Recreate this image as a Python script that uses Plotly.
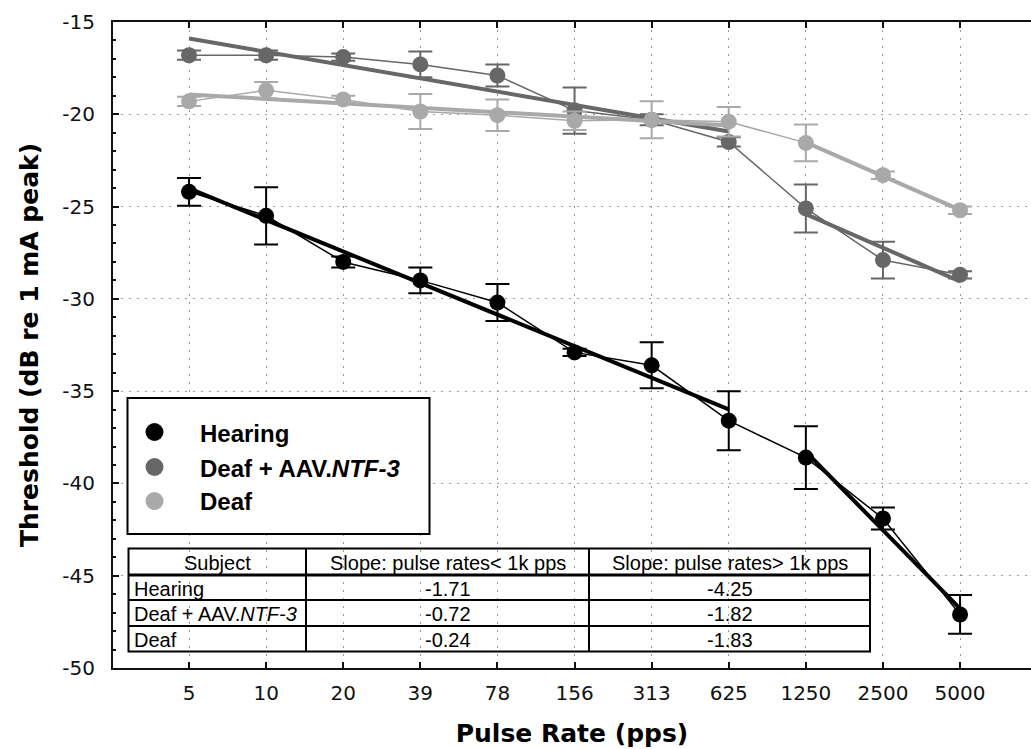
import plotly.graph_objects as go
import numpy as np

# ---------------- data ----------------
rates = ["5", "10", "20", "39", "78", "156", "313", "625", "1250", "2500", "5000"]
hearing = [-24.2, -25.5, -28.0, -29.0, -30.2, -32.9, -33.6, -36.6, -38.6, -41.9, -47.1]
hearing_err = [0.75, 1.55, 0.3, 0.7, 1.0, 0.2, 1.25, 1.6, 1.7, 0.6, 1.05]
aav = [-16.8, -16.8, -16.9, -17.3, -17.9, -19.8, -20.3, -21.5, -25.1, -27.9, -28.7]
aav_err = [0.25, 0.25, 0.2, 0.7, 0.6, 1.25, 0.3, 0.25, 1.3, 1.0, 0.2]
deaf = [-19.3, -18.7, -19.2, -19.85, -20.05, -20.35, -20.3, -20.4, -21.55, -23.3, -25.2]
deaf_err = [0.25, 0.45, 0.2, 0.95, 0.85, 0.5, 1.0, 0.8, 1.0, 0.2, 0.2]

legend_names = ["Hearing", "Deaf + AAV.<i>NTF-3</i>", "Deaf"]
table_header = ["Subject", "Slope: pulse rates< 1k pps", "Slope: pulse rates> 1k pps"]
table_subjects = ["Hearing", "Deaf + AAV.<i>NTF-3</i>", "Deaf"]
slope_low = [-1.71, -0.72, -0.24]
slope_high = [-4.25, -1.82, -1.83]

y_tick_vals = [-15, -20, -25, -30, -35, -40, -45, -50]
y_tick_text = ["-15", "-20", "-25", "-30", "-35", "-40", "-45", "-50"]

colors = ["#000000", "#676767", "#a9a9a9"]

# ---------------- geometry ----------------
W, H = 1031, 749
ML, MR, MT, MB = 113, 0, 22, 81
PW, PH = W - ML - MR, H - MT - MB


def px(x):
    return (x - ML) / PW


def py(y):
    return (H - MB - y) / PH


fig = go.Figure()

series = [
    (aav, aav_err, colors[1], 1),
    (deaf, deaf_err, colors[2], 2),
    (hearing, hearing_err, colors[0], 0),
]

n_low = 8  # rates below 1k pps
for vals, err, col, k in series:
    fig.add_trace(go.Scatter(
        x=rates, y=vals, mode="lines+markers",
        line=dict(color=col, width=1.5),
        marker=dict(color=col, size=16, symbol="circle"),
        error_y=dict(type="data", array=err, color=col, thickness=2, width=12),
        showlegend=False, hoverinfo="skip",
    ))
    # regression lines using the slopes from the table
    for idx, slope in ((list(range(0, n_low)), slope_low[k]),
                       (list(range(n_low, len(rates))), slope_high[k])):
        xi = np.array(idx, dtype=float)
        yi = np.array([vals[i] for i in idx])
        b = yi.mean() - slope * xi.mean()
        fig.add_trace(go.Scatter(
            x=[rates[idx[0]], rates[idx[-1]]],
            y=[b + slope * idx[0], b + slope * idx[-1]],
            mode="lines", line=dict(color=col, width=4),
            showlegend=False, hoverinfo="skip",
        ))

shapes = []
annotations = []

# ---------------- legend (box) ----------------
LX0, LX1, LY0, LY1 = 127.5, 429.5, 398, 534
shapes.append(dict(type="rect", xref="paper", yref="paper",
                   x0=px(LX0), x1=px(LX1), y0=py(LY1), y1=py(LY0),
                   line=dict(color="#000", width=2), fillcolor="white", layer="above"))
leg_y = [432, 467, 501]
for name, col, yy in zip(legend_names, colors, leg_y):
    shapes.append(dict(type="circle", xref="paper", yref="paper",
                       xsizemode="pixel", ysizemode="pixel",
                       xanchor=px(154.5), yanchor=py(yy),
                       x0=-9, x1=9, y0=-9, y1=9,
                       fillcolor=col, line=dict(color=col, width=0), layer="above"))
    annotations.append(dict(xref="paper", yref="paper", x=px(198), y=py(yy + 1),
                            xanchor="left", yanchor="middle", showarrow=False,
                            text="<b>" + name + "</b>",
                            font=dict(family="Liberation Sans, Arial", size=24, color="#000")))

# ---------------- table ----------------
TX0, TX1, TY0, TY1 = 128.5, 870, 548.5, 651.5
col_x = [TX0, 306, 589, TX1]
row_y = [TY0, 575, 600, 626, TY1]
shapes.append(dict(type="rect", xref="paper", yref="paper",
                   x0=px(TX0), x1=px(TX1), y0=py(TY1), y1=py(TY0),
                   line=dict(color="#000", width=2), layer="above"))
for cx in col_x[1:-1]:
    shapes.append(dict(type="line", xref="paper", yref="paper",
                       x0=px(cx), x1=px(cx), y0=py(TY1), y1=py(TY0),
                       line=dict(color="#000", width=2), layer="above"))
for i, ry in enumerate(row_y[1:-1]):
    shapes.append(dict(type="line", xref="paper", yref="paper",
                       x0=px(TX0), x1=px(TX1), y0=py(ry), y1=py(ry),
                       line=dict(color="#000", width=3 if i == 0 else 2), layer="above"))

tfont = dict(family="Liberation Sans, Arial", size=20, color="#000")
rows = [table_header] + [[s, f"{a:.2f}", f"{b:.2f}"] for s, a, b in zip(table_subjects, slope_low, slope_high)]
for r, row in enumerate(rows):
    yc = (row_y[r] + row_y[r + 1]) / 2
    for c, txt in enumerate(row):
        if c == 0 and r > 0:
            xx, anc = col_x[0] + 3, "left"
        else:
            xx, anc = (col_x[c] + col_x[c + 1]) / 2, "center"
        annotations.append(dict(xref="paper", yref="paper", x=px(xx), y=py(yc + 1),
                                xanchor=anc, yanchor="middle", showarrow=False,
                                text=txt, font=tfont))

grid_dash = "2px,6px"
fig.update_layout(
    width=W, height=H,
    margin=dict(l=ML, r=MR, t=MT, b=MB),
    paper_bgcolor="white", plot_bgcolor="white",
    shapes=shapes, annotations=annotations,
    showlegend=False,
    xaxis=dict(
        type="category", range=[-0.986, 10.92],
        showline=True, linecolor="#111", linewidth=2, mirror="ticks",
        ticks="inside", ticklen=6, tickwidth=2, tickcolor="#111",
        showgrid=True, gridcolor="#9a9a9a", gridwidth=1, griddash=grid_dash,
        tickfont=dict(family="DejaVu Sans", size=20, color="#111"),
        ticklabelstandoff=6,
        title=dict(text="<b>Pulse Rate (pps)</b>", standoff=20,
                   font=dict(family="DejaVu Sans", size=25, color="#000")),
        zeroline=False, automargin=False,
    ),
    yaxis=dict(
        range=[-50, -15], tickmode="array", tickvals=y_tick_vals, ticktext=y_tick_text,
        showline=True, linecolor="#111", linewidth=2, mirror=False,
        ticks="inside", ticklen=6, tickwidth=2, tickcolor="#111",
        minor=dict(tickmode="linear", tick0=-50, dtick=1, ticks="inside",
                   ticklen=3, tickwidth=1.5, tickcolor="#111", showgrid=False),
        showgrid=True, gridcolor="#9a9a9a", gridwidth=1, griddash=grid_dash,
        tickfont=dict(family="DejaVu Sans", size=20, color="#111"),
        ticklabelstandoff=12,
        title=dict(text="<b>Threshold (dB re 1 mA peak)</b>", standoff=17,
                   font=dict(family="DejaVu Sans", size=25, color="#000")),
        zeroline=False, automargin=False,
    ),
)

fig.write_html("out.html")
